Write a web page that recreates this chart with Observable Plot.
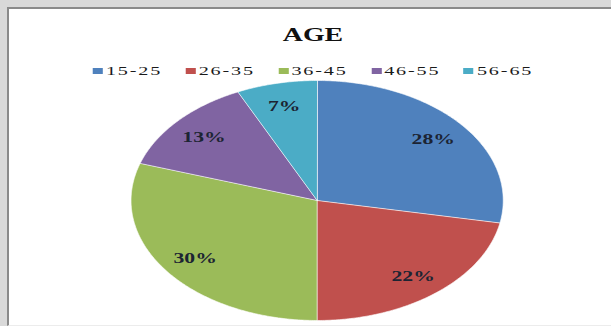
<!DOCTYPE html>
<html>
<head>
<meta charset="utf-8">
<script src="https://cdn.jsdelivr.net/npm/d3@7"></script>
<script src="https://cdn.jsdelivr.net/npm/@observablehq/plot@0.6"></script>
<style>
  html, body { margin: 0; padding: 0; background: #ffffff; }
  #page { position: relative; width: 611px; height: 326px; overflow: hidden; background: #d9d9d9; }
  #frame {
    position: absolute; left: 7px; top: 7px; width: 640px; height: 316px;
    background: #ffffff; border-left: 2px solid #8a8a8a; border-top: 2px solid #8a8a8a;
    border-bottom: 1px solid #ececec;
  }
  #title {
    position: absolute; left: 313px; top: 26px; white-space: nowrap;
    font: bold 18px "Liberation Serif", "Times New Roman", serif; line-height: 18px; color: #111;
    transform: translateX(-50%) scaleX(1.55);
  }
  #legend {
    position: absolute; left: 313px; top: 54px; white-space: nowrap;
    transform: translateX(-50%) scaleX(1.55);
  }
  #legend, #legend * {
    font-family: "Liberation Serif", "Times New Roman", serif !important;
    font-size: 13px !important; line-height: 14px !important; color: #1a1a1a;
    letter-spacing: 1.2px; margin-bottom: 0 !important;
  }
  #legend span { margin-right: 15px !important; }
  #legend span:last-child { margin-right: 0 !important; }
  #legend svg { margin-right: 2px !important; }
  #chart { position: absolute; left: 0; top: 72px; width: 611px; height: 255px; }
  #chart > svg { display: block; }
</style>
</head>
<body>
<div id="page">
  <div id="frame"></div>
  <div id="title">AGE</div>
  <div id="legend"></div>
  <div id="chart"></div>
</div>
<script>
// Age groups and their share of respondents (percent)
const ages = ["15-25", "26-35", "36-45", "46-55", "56-65"];
const shares = [28, 22, 30, 13, 7];
const colors = ["#4f81bd", "#c0504d", "#9bbb59", "#8064a2", "#4bacc6"];

// The pie is laid out as a circle, then the whole drawing is widened
const outerWidth = 611;
const plotWidth = 394;

// Slice angles, clockwise from 12 o'clock
const arcs = d3.pie().sort(null).value(d => d)(shares);

// Outline of each slice in unit coordinates (centre, then along the rim)
const outline = [];
arcs.forEach((a, i) => {
  outline.push({age: ages[i], x: 0, y: 0});
  const n = Math.max(2, Math.ceil((a.endAngle - a.startAngle) / 0.01));
  for (let k = 0; k <= n; ++k) {
    const t = a.startAngle + (a.endAngle - a.startAngle) * k / n;
    outline.push({age: ages[i], x: Math.sin(t), y: Math.cos(t)});
  }
});

// Label anchor inside each slice
const labels = arcs.map((a, i) => {
  const m = (a.startAngle + a.endAngle) / 2;
  return {age: ages[i], share: shares[i], x: 0.81 * Math.sin(m), y: 0.81 * Math.cos(m)};
});

const color = {type: "ordinal", domain: ages, range: colors};

document.getElementById("legend").append(
  Plot.legend({color, legend: "swatches", swatchWidth: 6.5, swatchHeight: 6})
);

const chart = Plot.plot({
  width: plotWidth,
  height: 255,
  marginLeft: 84,
  marginRight: 70,
  marginTop: 8,
  marginBottom: 7,
  x: {domain: [-1, 1], axis: null},
  y: {domain: [-1, 1], axis: null},
  color,
  style: {background: "transparent", overflow: "visible"},
  marks: [
    Plot.line(outline, {
      x: "x", y: "y", z: "age", fill: "age",
      stroke: "#ffffff", strokeWidth: 0.6, strokeOpacity: 0.8,
      curve: "linear-closed"
    }),
    Plot.text(labels, {
      x: "x", y: "y", dy: 1, text: d => `${d.share}%`,
      fill: "#1c2433", fontSize: 14, fontWeight: "bold",
      fontFamily: "Liberation Serif, Times New Roman, serif"
    })
  ]
});

// Stretch the drawing horizontally to the full width
chart.setAttribute("width", outerWidth);
chart.setAttribute("preserveAspectRatio", "none");
chart.style.width = outerWidth + "px";
chart.style.maxWidth = "none";

document.getElementById("chart").append(chart);
</script>
</body>
</html>
